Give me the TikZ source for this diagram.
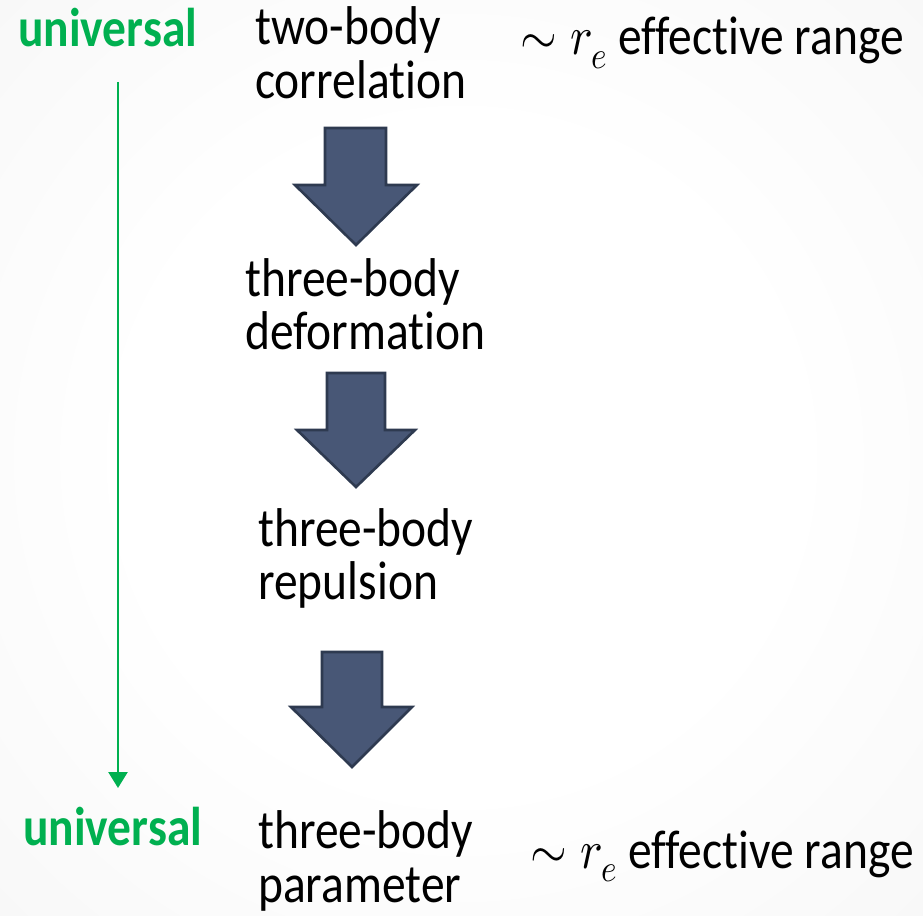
\documentclass[tikz,border=0pt]{standalone}
\usepackage{fontspec}
\usepackage{unicode-math}
\usepackage{graphicx}
\setmainfont{Carlito}[Ligatures={NoCommon}]
\setmathfont{Latin Modern Math}
\usetikzlibrary{arrows.meta}
\definecolor{gr}{RGB}{0,176,80}
\definecolor{arrfill}{RGB}{72,87,118}
\definecolor{arrline}{RGB}{46,58,80}
\newcommand\tallt[1]{\scalebox{1}[1.15]{#1}}
\pgfdeclareradialshading{bgshade}{\pgfpoint{0bp}{0bp}}{color(0bp)=(white); color(18bp)=(white); color(50bp)=(black!5); color(72bp)=(black!9)}
\tikzset{
  lbl/.style={anchor=base west, inner sep=0pt, font=\fontsize{47.5}{50}\selectfont, text=black},
  unilbl/.style={lbl, font=\fontsize{47.5}{50}\selectfont\bfseries, text=gr},
  blockarrow/.style={fill=arrfill, draw=arrline, line width=2.6pt, line join=miter},
  flow/.style={draw=gr, line width=2.6pt, -{Triangle[width=19pt,length=16pt]}}
}
\begin{document}
\begin{tikzpicture}[x=1pt,y=-1pt]
\useasboundingbox (0,0) rectangle (923,915);
\shade[shading=bgshade] (0,0) rectangle (923,915);

% left labels
\node[unilbl] (uni1) at (18,47) {\tallt{universal}};
\node[unilbl] (uni2) at (23,845) {\tallt{universal}};

% green flow arrow
\coordinate (gtop) at (118,82);
\coordinate (gbot) at (118,788);
\draw[flow] (gtop) -- (gbot);

% stage labels
\node[lbl] (s1a) at (255,45) {\tallt{two-body}};
\node[lbl] (s1b) at (255,99) {\tallt{correlation}};
\node[lbl] (s2a) at (245,296) {\tallt{three-body}};
\node[lbl] (s2b) at (245,349) {\tallt{deformation}};
\node[lbl] (s3a) at (258,546) {\tallt{three-body}};
\node[lbl] (s3b) at (258,599) {\tallt{repulsion}};
\node[lbl] (s4a) at (258,848) {\tallt{three-body}};
\node[lbl] (s4b) at (258,902) {\tallt{parameter}};

% effective range labels
\node[lbl] (re1) at (520,55) {\tallt{$\sim r_e$ effective range}};
\node[lbl] (re2) at (530,868) {\tallt{$\sim r_e$ effective range}};

% block arrows
\draw[blockarrow] (325,128) -- (386,128) -- (386,185) -- (417,185) -- (356,245) -- (295,185) -- (325,185) -- cycle;
\draw[blockarrow] (327,373) -- (385,373) -- (385,430) -- (415,430) -- (356,487) -- (297,430) -- (327,430) -- cycle;
\draw[blockarrow] (322,652) -- (382,652) -- (382,707) -- (412,707) -- (352,767) -- (291,707) -- (322,707) -- cycle;
\end{tikzpicture}
\end{document}
